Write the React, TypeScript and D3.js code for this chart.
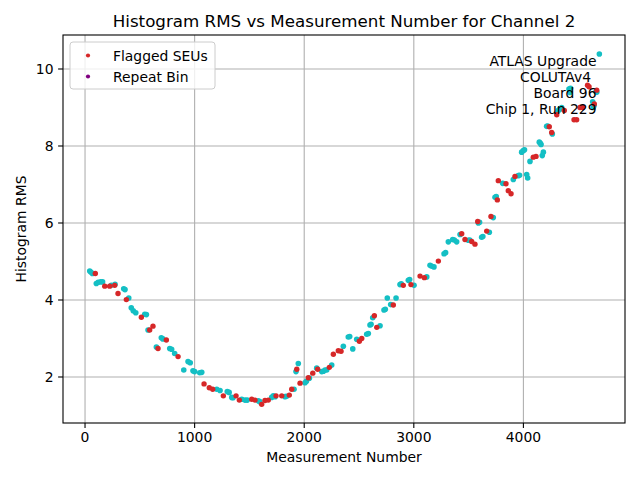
import React from 'react';
import * as d3 from 'd3';

// normal measurements (cyan)
const okMeas = [
  43, 55, 67, 103, 120, 143, 160, 240, 274, 353, 365, 399, 422, 440, 463, 545, 560, 575, 651, 696, 710, 773, 790, 818, 901, 940, 960, 985, 1000, 1047, 1065,
  1202, 1232, 1298, 1315, 1339, 1350, 1430, 1460, 1480, 1581, 1595, 1703, 1718, 1735, 1825, 1840, 1907, 1925, 1946, 2007, 2020, 2047, 2114, 2160, 2175, 2190, 2205, 2251,
  2357, 2402, 2415, 2443, 2479, 2570, 2585, 2600, 2610, 2625, 2692, 2728, 2740, 2758, 2789, 2838, 2874, 2885, 2950, 2962, 3002, 3118, 3148, 3160, 3184,
  3276, 3290, 3315, 3355, 3370, 3391, 3422, 3497, 3510, 3589, 3600, 3619, 3630, 3689, 3725, 3741, 3752, 3811, 3908, 3953, 3965, 3984, 3999, 4010, 4030, 4039, 4060,
  4145, 4155, 4161, 4172, 4182, 4212, 4222, 4264, 4318, 4330, 4349, 4416, 4425, 4430, 4632, 4638, 4645, 4662, 4670, 4693,
];
const okRms = [
  4.75, 4.72, 4.69, 4.43, 4.46, 4.47, 4.47, 4.38, 4.41, 4.29, 4.27, 4.05, 3.80, 3.72, 3.67, 3.63, 3.62, 3.22, 2.78, 3.02, 2.99, 2.74, 2.72, 2.61, 2.18, 2.40, 2.37, 2.16, 2.14, 2.11, 2.12,
  1.68, 1.65, 1.62, 1.60, 1.47, 1.46, 1.42, 1.40, 1.40, 1.38, 1.36, 1.47, 1.51, 1.49, 1.49, 1.50, 1.68, 2.14, 2.35, 1.85, 1.89, 1.97, 2.23, 2.14, 2.15, 2.18, 2.18, 2.31,
  2.80, 3.04, 3.05, 2.73, 2.98, 3.11, 3.13, 3.35, 3.37, 3.54, 3.33, 3.74, 3.76, 4.05, 3.88, 4.05, 4.40, 4.42, 4.51, 4.53, 4.38, 4.60, 4.90, 4.88, 4.86,
  5.20, 5.23, 5.51, 5.57, 5.56, 5.51, 5.70, 5.55, 5.56, 6.00, 6.02, 5.63, 5.65, 5.76, 6.14, 6.67, 6.69, 7.03, 7.13, 7.23, 7.24, 7.84, 7.88, 7.90, 7.26, 7.17, 7.60,
  8.10, 8.07, 8.04, 7.75, 7.84, 8.51, 8.52, 8.31, 8.92, 8.95, 9.00, 9.48, 9.39, 9.50, 9.15, 9.00, 9.05, 9.41, 9.40, 10.39,
];

// flagged SEUs (red)
const seuMeas = [
  94, 180, 225, 271, 301, 377, 514, 590, 620, 666, 742, 849,
  1086, 1134, 1165, 1262, 1378, 1408, 1521, 1551, 1612, 1642, 1672, 1743, 1795, 1864, 1886, 1932, 1962, 2037, 2078, 2123, 2229, 2266, 2311, 2336,
  2503, 2525, 2640, 2662, 2813, 2904, 2974, 3057, 3096, 3224,
  3437, 3467, 3528, 3558, 3583, 3665, 3704, 3762, 3771, 3841, 3862, 3887, 3923,
  4090, 4115, 4236, 4258, 4304, 4373, 4462, 4486, 4516, 4541, 4585, 4599, 4647, 4669,
];
const seuRms = [
  4.69, 4.36, 4.36, 4.38, 4.17, 4.01, 3.55, 3.22, 3.32, 2.74, 2.96, 2.53,
  1.82, 1.72, 1.68, 1.51, 1.51, 1.40, 1.42, 1.40, 1.29, 1.39, 1.40, 1.51, 1.51, 1.53, 1.68, 2.20, 1.84, 1.98, 2.10, 2.20, 2.25, 2.59, 2.68, 2.67,
  2.93, 3.00, 3.59, 3.29, 3.87, 4.38, 4.40, 4.62, 4.58, 5.01,
  5.72, 5.57, 5.52, 5.45, 6.04, 5.79, 6.17, 6.60, 7.10, 7.02, 6.84, 6.76, 7.21,
  7.71, 7.73, 8.50, 8.35, 8.81, 8.92, 8.68, 8.68, 9.00, 9.00, 9.58, 9.54, 9.09, 9.45,
];

const xTicks = [0, 1000, 2000, 3000, 4000];
const yTicks = [2, 4, 6, 8, 10];
const legendLabels = ['Flagged SEUs', 'Repeat Bin'];
const legendColors = ['#d62728', '#800080'];
const infoLines = ['ATLAS Upgrade', 'COLUTAv4', 'Board 96', 'Chip 1, Run 229'];

const W = 640;
const H = 480;
const margin = { top: 35, right: 15, bottom: 57, left: 63 };
const font = 'DejaVu Sans, sans-serif';
const cyan = '#14bfc4';
const red = '#d62728';

export default function App() {
  const x = d3.scaleLinear().domain([-201, 4927]).range([margin.left, W - margin.right]);
  const y = d3.scaleLinear().domain([0.805, 10.883]).range([H - margin.bottom, margin.top]);
  const [x0, x1] = x.range();
  const [y0, y1] = y.range();

  return (
    <svg width={W} height={H} style={{ position: 'absolute', left: 0, top: 0, background: '#fff' }} fontFamily={font}>
      <rect x={0} y={0} width={W} height={H} fill="#fff" />

      {/* grid */}
      {xTicks.map(t => (
        <line key={'gx' + t} x1={x(t)} x2={x(t)} y1={y1} y2={y0} stroke="#b0b0b0" strokeWidth={1.1} />
      ))}
      {yTicks.map(t => (
        <line key={'gy' + t} x1={x0} x2={x1} y1={y(t)} y2={y(t)} stroke="#b0b0b0" strokeWidth={1.1} />
      ))}

      {/* points */}
      {okMeas.map((m, i) => (
        <circle key={'c' + i} cx={x(m)} cy={y(okRms[i])} r={2.8} fill={cyan} />
      ))}
      {seuMeas.map((m, i) => (
        <circle key={'r' + i} cx={x(m)} cy={y(seuRms[i])} r={2.7} fill={red} />
      ))}

      {/* frame */}
      <rect x={x0} y={y1} width={x1 - x0} height={y0 - y1} fill="none" stroke="#000" strokeWidth={1.1} />

      {/* x axis */}
      {xTicks.map(t => (
        <g key={'tx' + t}>
          <line x1={x(t)} x2={x(t)} y1={y0} y2={y0 + 4.9} stroke="#000" strokeWidth={1.1} />
          <text x={x(t)} y={y0 + 18.5} textAnchor="middle" fontSize={13.9} fill="#000">{t}</text>
        </g>
      ))}
      {yTicks.map(t => (
        <g key={'ty' + t}>
          <line x1={x0 - 4.9} x2={x0} y1={y(t)} y2={y(t)} stroke="#000" strokeWidth={1.1} />
          <text x={x0 - 9.5} y={y(t)} dy="0.36em" textAnchor="end" fontSize={13.9} fill="#000">{t}</text>
        </g>
      ))}

      <text x={(x0 + x1) / 2} y={462} textAnchor="middle" fontSize={13.9}>Measurement Number</text>
      <text transform={`translate(26,${(y0 + y1) / 2}) rotate(-90)`} textAnchor="middle" fontSize={13.9}>Histogram RMS</text>
      <text x={(x0 + x1) / 2} y={27} textAnchor="middle" fontSize={16.7}>Histogram RMS vs Measurement Number for Channel 2</text>

      {/* legend */}
      <rect x={70} y={42} width={145} height={47} rx={3} fill="#fff" fillOpacity={0.8} stroke="#cccccc" strokeWidth={1} />
      {legendLabels.map((l, i) => (
        <g key={l}>
          <circle cx={88} cy={55.5 + i * 21} r={2.1} fill={legendColors[i]} />
          <text x={113} y={55.5 + i * 21} dy="0.36em" fontSize={13.9}>{l}</text>
        </g>
      ))}

      {/* info text */}
      {infoLines.map((l, i) => (
        <text key={l} x={i === 1 ? 591 : 596.5} y={66 + i * 16} textAnchor="end" fontSize={13.9}>{l}</text>
      ))}
    </svg>
  );
}
